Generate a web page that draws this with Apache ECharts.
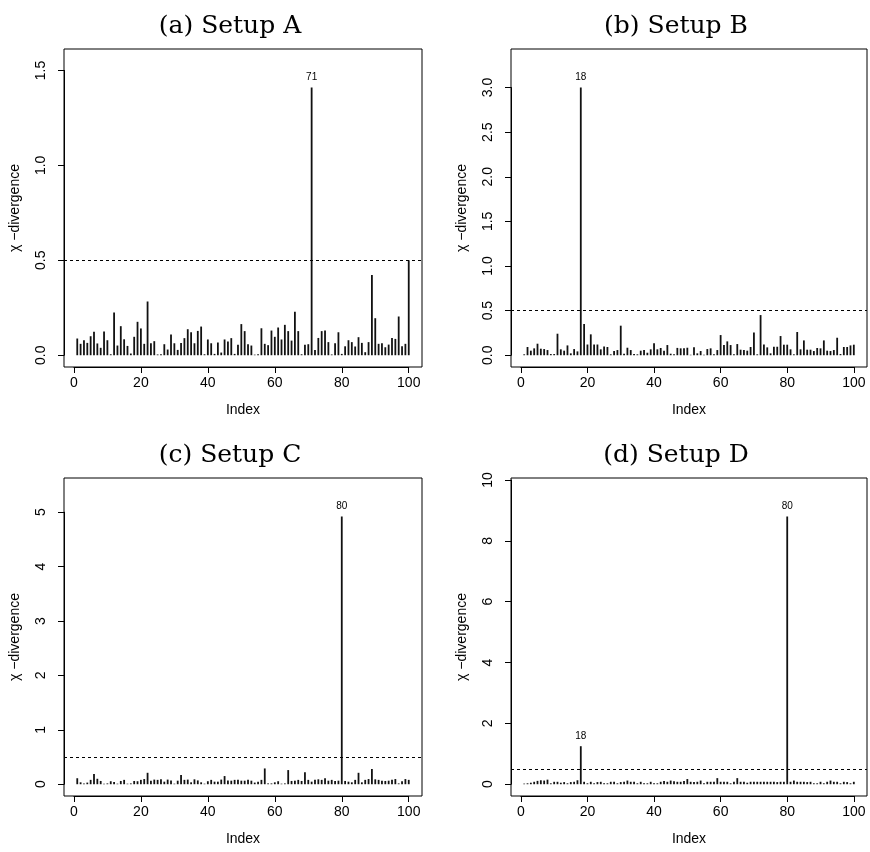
<!DOCTYPE html>
<html>
<head>
<meta charset="utf-8">
<script src="https://cdn.jsdelivr.net/npm/echarts@6/dist/echarts.min.js"></script>
<style>
  html, body { margin: 0; background: #fff; }
  #chart { width: 870px; height: 852px; }
</style>
</head>
<body>
<div id="chart"></div>
<script>
// chi-divergence per index
var valuesA = [0.088, 0.060, 0.079, 0.065, 0.100, 0.123, 0.062, 0.039, 0.125, 0.079,
  0.005, 0.225, 0.051, 0.153, 0.084, 0.049, 0.009, 0.097, 0.176, 0.141,
  0.060, 0.283, 0.063, 0.074, 0.004, 0.005, 0.058, 0.030, 0.109, 0.063,
  0.028, 0.065, 0.090, 0.137, 0.121, 0.063, 0.128, 0.151, 0.005, 0.083,
  0.063, 0.007, 0.067, 0.014, 0.083, 0.072, 0.090, 0.007, 0.055, 0.164,
  0.127, 0.058, 0.051, 0.003, 0.005, 0.142, 0.060, 0.053, 0.130, 0.097,
  0.146, 0.083, 0.160, 0.127, 0.077, 0.229, 0.127, 0.005, 0.055, 0.058,
  1.410, 0.028, 0.091, 0.127, 0.130, 0.069, 0.004, 0.063, 0.121, 0.007,
  0.047, 0.079, 0.069, 0.046, 0.095, 0.065, 0.016, 0.069, 0.422, 0.195,
  0.060, 0.063, 0.042, 0.056, 0.091, 0.086, 0.204, 0.047, 0.060, 0.500];
var valuesB = [0.010, 0.092, 0.051, 0.077, 0.129, 0.073, 0.069, 0.058, 0.013, 0.013,
  0.241, 0.066, 0.051, 0.110, 0.021, 0.069, 0.043, 3.000, 0.350, 0.120,
  0.234, 0.120, 0.120, 0.066, 0.099, 0.092, 0.010, 0.047, 0.058, 0.331,
  0.017, 0.084, 0.058, 0.013, 0.010, 0.051, 0.058, 0.028, 0.066, 0.133,
  0.066, 0.081, 0.051, 0.114, 0.017, 0.010, 0.082, 0.077, 0.077, 0.084,
  0.005, 0.088, 0.021, 0.047, 0.006, 0.069, 0.077, 0.010, 0.058, 0.226,
  0.114, 0.155, 0.114, 0.010, 0.125, 0.062, 0.058, 0.051, 0.092, 0.256,
  0.010, 0.450, 0.120, 0.088, 0.021, 0.095, 0.095, 0.215, 0.118, 0.118,
  0.066, 0.010, 0.260, 0.066, 0.166, 0.062, 0.062, 0.047, 0.081, 0.077,
  0.166, 0.051, 0.047, 0.058, 0.196, 0.013, 0.092, 0.092, 0.110, 0.118];
var valuesC = [0.110, 0.035, 0.015, 0.030, 0.080, 0.190, 0.100, 0.060, 0.010, 0.015,
  0.055, 0.040, 0.010, 0.060, 0.080, 0.010, 0.015, 0.060, 0.055, 0.080,
  0.095, 0.210, 0.065, 0.085, 0.080, 0.090, 0.047, 0.085, 0.070, 0.010,
  0.065, 0.170, 0.080, 0.085, 0.035, 0.090, 0.070, 0.035, 0.010, 0.055,
  0.080, 0.047, 0.047, 0.085, 0.150, 0.070, 0.065, 0.080, 0.080, 0.065,
  0.065, 0.080, 0.065, 0.030, 0.047, 0.080, 0.290, 0.015, 0.015, 0.035,
  0.055, 0.010, 0.015, 0.260, 0.060, 0.065, 0.080, 0.060, 0.220, 0.080,
  0.047, 0.080, 0.090, 0.080, 0.110, 0.065, 0.080, 0.060, 0.065, 4.920,
  0.060, 0.047, 0.035, 0.080, 0.210, 0.035, 0.080, 0.095, 0.280, 0.090,
  0.080, 0.065, 0.060, 0.065, 0.080, 0.095, 0.015, 0.055, 0.095, 0.080];
var valuesD = [0.020, 0.030, 0.050, 0.080, 0.110, 0.130, 0.120, 0.150, 0.030, 0.080,
  0.080, 0.050, 0.070, 0.030, 0.070, 0.080, 0.130, 1.250, 0.080, 0.030,
  0.080, 0.030, 0.070, 0.080, 0.030, 0.030, 0.080, 0.080, 0.030, 0.070,
  0.080, 0.120, 0.080, 0.080, 0.030, 0.080, 0.030, 0.030, 0.080, 0.030,
  0.030, 0.080, 0.110, 0.080, 0.120, 0.100, 0.080, 0.080, 0.110, 0.170,
  0.080, 0.070, 0.080, 0.120, 0.030, 0.080, 0.080, 0.080, 0.200, 0.080,
  0.080, 0.080, 0.030, 0.080, 0.200, 0.080, 0.080, 0.050, 0.080, 0.080,
  0.080, 0.080, 0.080, 0.080, 0.080, 0.080, 0.070, 0.080, 0.080, 8.800,
  0.080, 0.120, 0.080, 0.080, 0.080, 0.070, 0.080, 0.030, 0.030, 0.080,
  0.030, 0.080, 0.120, 0.080, 0.080, 0.030, 0.080, 0.070, 0.030, 0.080];

var panelValues = [valuesA, valuesB, valuesC, valuesD];
var panelTitles = ['(a) Setup A', '(b) Setup B', '(c) Setup C', '(d) Setup D'];
var panelPeaks = [[71], [18], [80], [18, 80]];
var yTickMax = [1.5, 3.0, 5, 10];
var yTickStep = [0.5, 0.5, 1, 2];
var yTickDigits = [1, 1, 0, 0];
var xTickMax = 100;
var xTickStep = 20;
var threshold = 0.5;

// outer plot frames (R style box); the tick region is derived from these
var boxes = [
  { left: 64, top: 49, width: 358, titleX: 225, titleY: 9 },
  { left: 511, top: 49, width: 356, titleX: 671, titleY: 9 },
  { left: 64, top: 478, width: 358, titleX: 225, titleY: 438 },
  { left: 511, top: 478, width: 356, titleX: 671, titleY: 438 }
];
var boxHeight = 318;
var sansFont = 'Liberation Sans, Arial, sans-serif';
var xLo = -2.96, xHi = 103.96;

var chart = echarts.init(document.getElementById('chart'));

var grids = [], xAxes = [], yAxes = [], series = [], titles = [];
panelValues.forEach(function (vals, p) {
  var b = boxes[p];
  var yTop = 1.1 * Math.max.apply(null, vals);
  var yLo = -0.04 * yTop, yHi = 1.04 * yTop;
  var sx = b.width / (xHi - xLo), sy = boxHeight / (yHi - yLo);
  var gLeft = b.left + (0 - xLo) * sx;
  var gWidth = xTickMax * sx;
  var gBottom = b.top + boxHeight - (0 - yLo) * sy;
  var gHeight = yTickMax[p] * sy;
  var fi = 2 * p, ti = 2 * p + 1;

  // frame grid: full R plot region, holds the marks and the axis titles
  grids.push({
    left: b.left, top: b.top, width: b.width, height: boxHeight,
    outerBoundsMode: 'none', containLabel: false,
    show: true, borderColor: '#000', borderWidth: 1, backgroundColor: 'transparent'
  });
  // tick grid: 0..100 and 0..max tick, carries the ticks and tick labels
  grids.push({ left: gLeft, top: gBottom - gHeight, width: gWidth, height: gHeight,
    outerBoundsMode: 'none', containLabel: false });

  titles.push({
    text: panelTitles[p], left: b.titleX, top: b.titleY, textAlign: 'center',
    textStyle: { fontFamily: 'DejaVu Serif, serif', fontSize: 25, fontWeight: 'normal', color: '#000' }
  });

  xAxes.push({
    gridIndex: fi, type: 'value', min: xLo, max: xHi, position: 'bottom',
    name: 'Index', nameLocation: 'middle', nameGap: 36,
    nameTextStyle: { fontFamily: sansFont, fontSize: 14, color: '#000' },
    axisLine: { show: false, onZero: false }, axisTick: { show: false },
    axisLabel: { show: false }, splitLine: { show: false }
  });
  yAxes.push({
    gridIndex: fi, type: 'value', min: yLo, max: yHi, position: 'left',
    name: 'χ −divergence', nameLocation: 'middle', nameGap: 42,
    nameTextStyle: { fontFamily: sansFont, fontSize: 14, color: '#000' },
    axisLine: { show: false, onZero: false }, axisTick: { show: false },
    axisLabel: { show: false }, splitLine: { show: false }
  });

  xAxes.push({
    gridIndex: ti, type: 'value', min: 0, max: xTickMax, interval: xTickStep,
    position: 'bottom', offset: b.top + boxHeight - gBottom,
    axisLine: { show: true, onZero: false, lineStyle: { color: '#000', width: 1 } },
    axisTick: { show: true, inside: false, length: 6, lineStyle: { color: '#000' } },
    axisLabel: { margin: 9, fontFamily: sansFont, fontSize: 14, color: '#000' },
    splitLine: { show: false }
  });
  var digits = yTickDigits[p];
  yAxes.push({
    gridIndex: ti, type: 'value', min: 0, max: yTickMax[p], interval: yTickStep[p],
    position: 'left', offset: gLeft - b.left,
    axisLine: { show: true, onZero: false, lineStyle: { color: '#000', width: 1 } },
    axisTick: { show: true, inside: false, length: 6, lineStyle: { color: '#000' } },
    axisLabel: {
      rotate: 90, margin: 16, fontFamily: sansFont, fontSize: 14, color: '#000',
      formatter: function (v) { return Number(v).toFixed(digits); }
    },
    splitLine: { show: false }
  });

  var peaks = panelPeaks[p];
  series.push({
    type: 'bar', xAxisIndex: fi, yAxisIndex: fi, barWidth: 1.8,
    itemStyle: { color: '#111' },
    data: vals.map(function (v, k) {
      var idx = k + 1;
      var item = { value: [idx, v] };
      if (peaks.indexOf(idx) >= 0) {
        item.label = { show: true, position: 'top', distance: 5, formatter: String(idx),
          fontFamily: sansFont, fontSize: 10, color: '#000' };
      }
      return item;
    }),
    markLine: {
      silent: true, symbol: 'none', label: { show: false },
      lineStyle: { type: [3, 3], color: '#000', width: 1 },
      data: [{ yAxis: threshold }]
    }
  });
});

chart.setOption({
  animation: false,
  title: titles,
  grid: grids,
  xAxis: xAxes,
  yAxis: yAxes,
  series: series
});
</script>
</body>
</html>
